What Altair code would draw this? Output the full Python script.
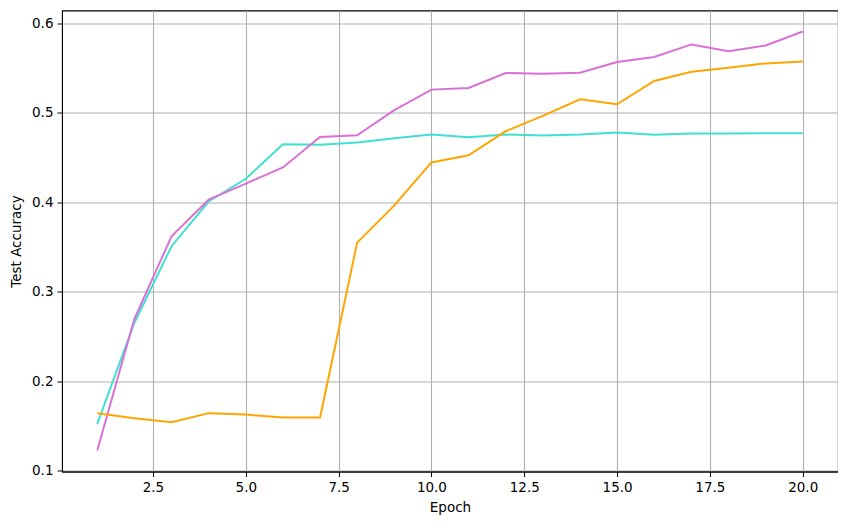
import altair as alt
import pandas as pd

epochs = list(range(1, 21))
turquoise = [0.1525, 0.2655, 0.351, 0.401, 0.4264, 0.465, 0.4645, 0.467, 0.4717, 0.4758,
             0.4728, 0.4758, 0.4747, 0.4758, 0.478, 0.4755, 0.4769, 0.4769, 0.4773, 0.4773]
orchid = [0.1227, 0.270, 0.362, 0.403, 0.421, 0.439, 0.473, 0.475, 0.503, 0.526,
          0.5279, 0.5446, 0.5438, 0.5449, 0.5569, 0.5624, 0.5765, 0.569, 0.5754, 0.591]
orange = [0.1644, 0.1589, 0.1544, 0.1645, 0.1629, 0.1596, 0.1596, 0.355, 0.3967, 0.4446,
          0.4527, 0.4795, 0.4966, 0.5152, 0.5096, 0.5357, 0.546, 0.5505, 0.5553, 0.5575]
x_ticks = [2.5, 5.0, 7.5, 10.0, 12.5, 15.0, 17.5, 20.0]
y_ticks = [0.1, 0.2, 0.3, 0.4, 0.5, 0.6]

series = [("turquoise", turquoise, "#40E0D0"), ("orchid", orchid, "#DA70D6"), ("orange", orange, "#FFA500")]

font = "DejaVu Sans"
xs = alt.X("epoch:Q", title="Epoch",
           scale=alt.Scale(domain=[0.05, 20.95], nice=False, zero=False),
           axis=alt.Axis(values=x_ticks, format=".1f", grid=True, gridColor="#b0b0b0", gridWidth=1.1,
                         domainColor="black", tickColor="black", tickSize=5, labelPadding=4,
                         labelFont=font, labelFontSize=13.5, labelColor="black",
                         titleFont=font, titleFontSize=13.5, titleFontWeight="normal", titleColor="black",
                         titlePadding=6, labelFlush=False))
ys = alt.Y("acc:Q", title="Test Accuracy",
           scale=alt.Scale(domain=[0.0993, 0.6144], nice=False, zero=False),
           axis=alt.Axis(values=y_ticks, format=".1f", grid=True, gridColor="#b0b0b0", gridWidth=1.1,
                         domainColor="black", tickColor="black", tickSize=5, labelPadding=4,
                         labelFont=font, labelFontSize=13.5, labelColor="black",
                         titleFont=font, titleFontSize=13.5, titleFontWeight="normal", titleColor="black",
                         titlePadding=8, labelFlush=False))

layers = []
for name, vals, col in series:
    df = pd.DataFrame({"epoch": epochs, "acc": vals})
    layers.append(alt.Chart(df).mark_line(color=col, strokeWidth=2).encode(x=xs, y=ys))

chart = alt.layer(*layers).properties(
    width=776, height=461,
    autosize=alt.AutoSizeParams(type="none"),
    padding={"left": 54, "top": 2.5, "right": 0, "bottom": 45},
    background="white",
).configure_view(stroke="black", strokeWidth=1.1)

chart.save("out.html", embed_options={"renderer": "svg", "actions": False})
